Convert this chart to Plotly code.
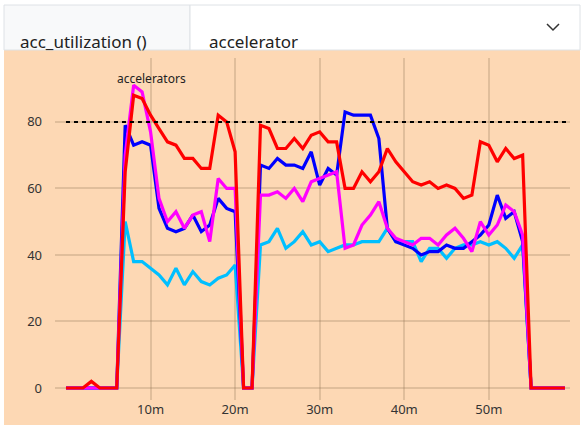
import plotly.graph_objects as go

W, H = 585, 430

minutes = list(range(60))
blue = [0, 0, 0, 0, 0, 0, 0, 79, 73, 74, 73, 54, 48, 47, 48, 52, 47, 49, 57, 54,
        53, 0, 0, 67, 66, 69, 67, 67, 66, 71, 61, 66, 64, 83, 82, 82, 82, 75, 48, 44,
        43, 42, 40, 41, 41, 43, 42, 42, 44, 46, 49, 58, 51, 53, 44, 0, 0, 0, 0, 0]
cyan = [0, 0, 0, 0, 0, 0, 0, 50, 38, 38, 36, 34, 31, 36, 31, 35, 32, 31, 33, 34,
        37, 0, 0, 43, 44, 48, 42, 44, 47, 43, 44, 41, 42, 43, 43, 44, 44, 44, 48, 44,
        44, 44, 38, 42, 42, 39, 42, 43, 43, 44, 43, 44, 42, 39, 43, 0, 0, 0, 0, 0]
magenta = [0, 0, 0, 0, 0, 0, 0, 70, 91, 89, 77, 57, 50, 53, 48, 52, 53, 44, 63, 60,
           60, 0, 0, 58, 58, 59, 57, 60, 56, 62, 63, 64, 65, 42, 43, 49, 52, 56, 48, 45,
           44, 43, 45, 45, 43, 46, 48, 45, 41, 50, 46, 49, 55, 53, 46, 0, 0, 0, 0, 0]
red = [0, 0, 0, 2, 0, 0, 0, 65, 88, 87, 82, 78, 74, 73, 69, 69, 66, 66, 82, 80,
       71, 0, 0, 79, 78, 72, 72, 75, 72, 76, 77, 74, 74, 60, 60, 65, 62, 65, 72, 68,
       65, 62, 61, 62, 60, 61, 60, 57, 58, 74, 73, 68, 72, 69, 70, 0, 0, 0, 0, 0]
threshold = 80
tick_vals = [10, 20, 30, 40, 50]
tick_text = ["10m", "20m", "30m", "40m", "50m"]

FONT = "Noto Sans"


def px(x):
    return x / W


def py(y):
    return 1 - y / H


fig = go.Figure()
for vals, color in [(cyan, "#00bfff"), (blue, "#0000ff"), (magenta, "#ff00ff"), (red, "#ff0000")]:
    fig.add_trace(go.Scatter(x=minutes, y=vals, mode="lines",
                             line=dict(color=color, width=3.2), showlegend=False))

fig.add_trace(go.Scatter(x=[0, 59.6], y=[threshold, threshold], mode="lines",
                         line=dict(color="black", width=2, dash="4px,4px"), showlegend=False))

shapes = [
    # orange panel
    dict(type="rect", xref="paper", yref="paper", x0=px(4), x1=px(580), y0=py(425), y1=py(50),
         fillcolor="#fdd8b4", line=dict(width=0), layer="below"),
    # header: left label box
    dict(type="rect", xref="paper", yref="paper", x0=px(4), x1=px(190), y0=py(50), y1=py(5),
         fillcolor="#f8f9fa", line=dict(color="#dee2e6", width=1), layer="below"),
    dict(type="rect", xref="paper", yref="paper", x0=px(190), x1=px(580), y0=py(50), y1=py(5),
         fillcolor="white", line=dict(color="#dee2e6", width=1), layer="below"),
    dict(type="path", xref="paper", yref="paper",
         path=f"M {px(547)} {py(24)} L {px(553)} {py(30)} L {px(559)} {py(24)}",
         line=dict(color="#333", width=1.5)),
]

fig.update_layout(
    width=W, height=H,
    margin=dict(l=0, r=0, t=0, b=0),
    paper_bgcolor="white",
    plot_bgcolor="rgba(0,0,0,0)",
    font=dict(family=FONT, size=13, color="#333"),
    shapes=shapes,
    xaxis=dict(domain=[px(55), px(570)], range=[-1.3, 59.6], tickvals=tick_vals, ticktext=tick_text,
               showgrid=True, gridcolor="rgba(140,110,80,0.25)", gridwidth=2, zeroline=False,
               showline=False, ticks="", fixedrange=True),
    yaxis=dict(domain=[1 - 400 / H, 1 - 58 / H], range=[-3.6, 99.2], tickvals=[0, 20, 40, 60, 80],
               showgrid=True, gridcolor="rgba(140,110,80,0.25)", gridwidth=2, zeroline=False,
               showline=False, ticks="", ticklabelstandoff=12, fixedrange=True),
    annotations=[
        dict(text="accelerators", xref="paper", yref="paper", x=px(115), y=py(68),
             showarrow=False, font=dict(size=12, color="#222")),
        dict(text="acc_utilization ()", xref="paper", yref="paper", x=px(18), y=py(28),
             xanchor="left", showarrow=False, font=dict(size=17, color="#222")),
        dict(text="accelerator", xref="paper", yref="paper", x=px(207), y=py(28),
             xanchor="left", showarrow=False, font=dict(size=17, color="#222")),
    ],
)

fig.write_html("out.html", config={"displayModeBar": False},
               post_script="document.body.style.margin='0';")
